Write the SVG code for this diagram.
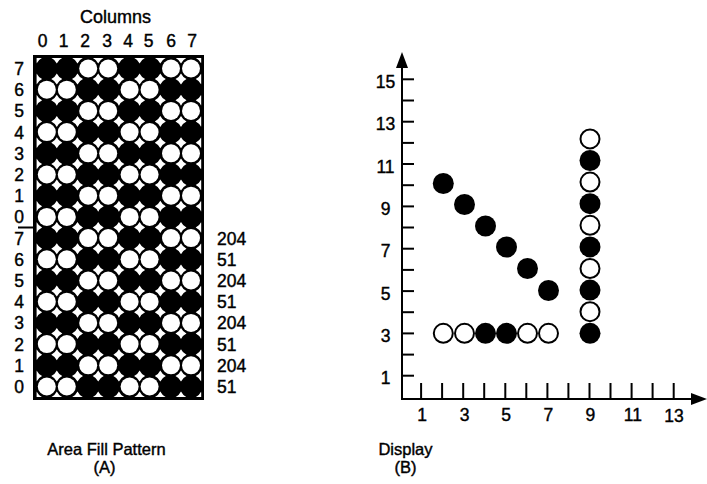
<svg xmlns="http://www.w3.org/2000/svg" xmlns:xlink="http://www.w3.org/1999/xlink" width="707" height="484" viewBox="0 0 707 484">
<style>
text{font-family:"Liberation Sans",Arial,Helvetica,sans-serif;fill:#000;stroke:#000;stroke-width:0.4px}
.n{font-size:17.5px}
.w{font-size:18px}
.t{font-size:16.5px;text-anchor:middle}
.c{text-anchor:middle}
.o{fill:#fff}
.line{stroke:#000;stroke-width:2;fill:none}
.tick{stroke:#000;stroke-width:2}
.bd{fill:#000}
.od{fill:#fff;stroke:#000;stroke-width:2}
</style>
<defs>
<path id="d" d="M0,-5.5 Q1.8,-1.8 5.5,0 Q1.8,1.8 0,5.5 Q-1.8,1.8 -5.5,0 Q-1.8,-1.8 0,-5.5Z" fill="#fff"/>
<clipPath id="inner"><rect x="36.6" y="57.9" width="164.6" height="339.2"/></clipPath>
<marker id="arr" viewBox="0 0 16 12" refX="0" refY="6" markerWidth="16" markerHeight="12" markerUnits="userSpaceOnUse" orient="auto"><path d="M0,0 L16,6 L0,12Z" fill="#000"/></marker>
</defs>
<rect width="707" height="484" fill="#fff"/>

<g id="panelA">
<text class="w c" x="115.5" y="23">Columns</text>
<g id="colLabels" class="n">
<text class="c" x="42.7" y="47">0</text><text class="c" x="63.5" y="47">1</text><text class="c" x="85" y="47">2</text><text class="c" x="107" y="47">3</text><text class="c" x="128" y="47">4</text><text class="c" x="148.5" y="47">5</text><text class="c" x="171" y="47">6</text><text class="c" x="192" y="47">7</text>
</g>
<g id="rowLabels" class="n">
<text class="c" x="19" y="75">7</text><text class="c" x="19" y="96.2">6</text><text class="c" x="19" y="117.4">5</text><text class="c" x="19" y="138.6">4</text><text class="c" x="19" y="159.8">3</text><text class="c" x="19" y="181">2</text><text class="c" x="19" y="202.2">1</text><text class="c" x="19" y="223.4">0</text>
<text class="c" x="19" y="244.6">7</text><text class="c" x="19" y="265.8">6</text><text class="c" x="19" y="287">5</text><text class="c" x="19" y="308.2">4</text><text class="c" x="19" y="329.4">3</text><text class="c" x="19" y="350.6">2</text><text class="c" x="19" y="371.8">1</text><text class="c" x="19" y="393">0</text>
</g>
<g id="byteValues" class="n">
<text x="217" y="244.6">204</text><text x="217" y="265.8">51</text><text x="217" y="287">204</text><text x="217" y="308.2">51</text><text x="217" y="329.4">204</text><text x="217" y="350.6">51</text><text x="217" y="371.8">204</text><text x="217" y="393">51</text>
</g>
<line class="line" x1="18" y1="227.5" x2="34" y2="227.5"/>
<g id="grid">
<rect x="33" y="55" width="171" height="345" fill="#000"/>
<g clip-path="url(#inner)">
<g id="diamonds">
<use href="#d" x="36.6" y="57.9"/><use href="#d" x="56.8" y="57.9"/><use href="#d" x="77.5" y="57.9"/><use href="#d" x="98.2" y="57.9"/><use href="#d" x="118.9" y="57.9"/><use href="#d" x="139.6" y="57.9"/><use href="#d" x="160.3" y="57.9"/><use href="#d" x="181" y="57.9"/><use href="#d" x="201.2" y="57.9"/>
<use href="#d" x="36.6" y="79.1"/><use href="#d" x="56.8" y="79.1"/><use href="#d" x="77.5" y="79.1"/><use href="#d" x="98.2" y="79.1"/><use href="#d" x="118.9" y="79.1"/><use href="#d" x="139.6" y="79.1"/><use href="#d" x="160.3" y="79.1"/><use href="#d" x="181" y="79.1"/><use href="#d" x="201.2" y="79.1"/>
<use href="#d" x="36.6" y="100.3"/><use href="#d" x="56.8" y="100.3"/><use href="#d" x="77.5" y="100.3"/><use href="#d" x="98.2" y="100.3"/><use href="#d" x="118.9" y="100.3"/><use href="#d" x="139.6" y="100.3"/><use href="#d" x="160.3" y="100.3"/><use href="#d" x="181" y="100.3"/><use href="#d" x="201.2" y="100.3"/>
<use href="#d" x="36.6" y="121.5"/><use href="#d" x="56.8" y="121.5"/><use href="#d" x="77.5" y="121.5"/><use href="#d" x="98.2" y="121.5"/><use href="#d" x="118.9" y="121.5"/><use href="#d" x="139.6" y="121.5"/><use href="#d" x="160.3" y="121.5"/><use href="#d" x="181" y="121.5"/><use href="#d" x="201.2" y="121.5"/>
<use href="#d" x="36.6" y="142.7"/><use href="#d" x="56.8" y="142.7"/><use href="#d" x="77.5" y="142.7"/><use href="#d" x="98.2" y="142.7"/><use href="#d" x="118.9" y="142.7"/><use href="#d" x="139.6" y="142.7"/><use href="#d" x="160.3" y="142.7"/><use href="#d" x="181" y="142.7"/><use href="#d" x="201.2" y="142.7"/>
<use href="#d" x="36.6" y="163.9"/><use href="#d" x="56.8" y="163.9"/><use href="#d" x="77.5" y="163.9"/><use href="#d" x="98.2" y="163.9"/><use href="#d" x="118.9" y="163.9"/><use href="#d" x="139.6" y="163.9"/><use href="#d" x="160.3" y="163.9"/><use href="#d" x="181" y="163.9"/><use href="#d" x="201.2" y="163.9"/>
<use href="#d" x="36.6" y="185.1"/><use href="#d" x="56.8" y="185.1"/><use href="#d" x="77.5" y="185.1"/><use href="#d" x="98.2" y="185.1"/><use href="#d" x="118.9" y="185.1"/><use href="#d" x="139.6" y="185.1"/><use href="#d" x="160.3" y="185.1"/><use href="#d" x="181" y="185.1"/><use href="#d" x="201.2" y="185.1"/>
<use href="#d" x="36.6" y="206.3"/><use href="#d" x="56.8" y="206.3"/><use href="#d" x="77.5" y="206.3"/><use href="#d" x="98.2" y="206.3"/><use href="#d" x="118.9" y="206.3"/><use href="#d" x="139.6" y="206.3"/><use href="#d" x="160.3" y="206.3"/><use href="#d" x="181" y="206.3"/><use href="#d" x="201.2" y="206.3"/>
<use href="#d" x="36.6" y="227.5"/><use href="#d" x="56.8" y="227.5"/><use href="#d" x="77.5" y="227.5"/><use href="#d" x="98.2" y="227.5"/><use href="#d" x="118.9" y="227.5"/><use href="#d" x="139.6" y="227.5"/><use href="#d" x="160.3" y="227.5"/><use href="#d" x="181" y="227.5"/><use href="#d" x="201.2" y="227.5"/>
<use href="#d" x="36.6" y="248.7"/><use href="#d" x="56.8" y="248.7"/><use href="#d" x="77.5" y="248.7"/><use href="#d" x="98.2" y="248.7"/><use href="#d" x="118.9" y="248.7"/><use href="#d" x="139.6" y="248.7"/><use href="#d" x="160.3" y="248.7"/><use href="#d" x="181" y="248.7"/><use href="#d" x="201.2" y="248.7"/>
<use href="#d" x="36.6" y="269.9"/><use href="#d" x="56.8" y="269.9"/><use href="#d" x="77.5" y="269.9"/><use href="#d" x="98.2" y="269.9"/><use href="#d" x="118.9" y="269.9"/><use href="#d" x="139.6" y="269.9"/><use href="#d" x="160.3" y="269.9"/><use href="#d" x="181" y="269.9"/><use href="#d" x="201.2" y="269.9"/>
<use href="#d" x="36.6" y="291.1"/><use href="#d" x="56.8" y="291.1"/><use href="#d" x="77.5" y="291.1"/><use href="#d" x="98.2" y="291.1"/><use href="#d" x="118.9" y="291.1"/><use href="#d" x="139.6" y="291.1"/><use href="#d" x="160.3" y="291.1"/><use href="#d" x="181" y="291.1"/><use href="#d" x="201.2" y="291.1"/>
<use href="#d" x="36.6" y="312.3"/><use href="#d" x="56.8" y="312.3"/><use href="#d" x="77.5" y="312.3"/><use href="#d" x="98.2" y="312.3"/><use href="#d" x="118.9" y="312.3"/><use href="#d" x="139.6" y="312.3"/><use href="#d" x="160.3" y="312.3"/><use href="#d" x="181" y="312.3"/><use href="#d" x="201.2" y="312.3"/>
<use href="#d" x="36.6" y="333.5"/><use href="#d" x="56.8" y="333.5"/><use href="#d" x="77.5" y="333.5"/><use href="#d" x="98.2" y="333.5"/><use href="#d" x="118.9" y="333.5"/><use href="#d" x="139.6" y="333.5"/><use href="#d" x="160.3" y="333.5"/><use href="#d" x="181" y="333.5"/><use href="#d" x="201.2" y="333.5"/>
<use href="#d" x="36.6" y="354.7"/><use href="#d" x="56.8" y="354.7"/><use href="#d" x="77.5" y="354.7"/><use href="#d" x="98.2" y="354.7"/><use href="#d" x="118.9" y="354.7"/><use href="#d" x="139.6" y="354.7"/><use href="#d" x="160.3" y="354.7"/><use href="#d" x="181" y="354.7"/><use href="#d" x="201.2" y="354.7"/>
<use href="#d" x="36.6" y="375.9"/><use href="#d" x="56.8" y="375.9"/><use href="#d" x="77.5" y="375.9"/><use href="#d" x="98.2" y="375.9"/><use href="#d" x="118.9" y="375.9"/><use href="#d" x="139.6" y="375.9"/><use href="#d" x="160.3" y="375.9"/><use href="#d" x="181" y="375.9"/><use href="#d" x="201.2" y="375.9"/>
<use href="#d" x="36.6" y="397.1"/><use href="#d" x="56.8" y="397.1"/><use href="#d" x="77.5" y="397.1"/><use href="#d" x="98.2" y="397.1"/><use href="#d" x="118.9" y="397.1"/><use href="#d" x="139.6" y="397.1"/><use href="#d" x="160.3" y="397.1"/><use href="#d" x="181" y="397.1"/><use href="#d" x="201.2" y="397.1"/>
</g>
</g>
<g id="openCells" class="o">
<circle cx="88.2" cy="68.5" r="9"/><circle cx="108.2" cy="68.5" r="9"/><circle cx="171" cy="68.5" r="9"/><circle cx="191" cy="68.5" r="9"/>
<circle cx="46.8" cy="89.7" r="9"/><circle cx="66.8" cy="89.7" r="9"/><circle cx="129.6" cy="89.7" r="9"/><circle cx="149.6" cy="89.7" r="9"/>
<circle cx="88.2" cy="110.9" r="9"/><circle cx="108.2" cy="110.9" r="9"/><circle cx="171" cy="110.9" r="9"/><circle cx="191" cy="110.9" r="9"/>
<circle cx="46.8" cy="132.1" r="9"/><circle cx="66.8" cy="132.1" r="9"/><circle cx="129.6" cy="132.1" r="9"/><circle cx="149.6" cy="132.1" r="9"/>
<circle cx="88.2" cy="153.3" r="9"/><circle cx="108.2" cy="153.3" r="9"/><circle cx="171" cy="153.3" r="9"/><circle cx="191" cy="153.3" r="9"/>
<circle cx="46.8" cy="174.5" r="9"/><circle cx="66.8" cy="174.5" r="9"/><circle cx="129.6" cy="174.5" r="9"/><circle cx="149.6" cy="174.5" r="9"/>
<circle cx="88.2" cy="195.7" r="9"/><circle cx="108.2" cy="195.7" r="9"/><circle cx="171" cy="195.7" r="9"/><circle cx="191" cy="195.7" r="9"/>
<circle cx="46.8" cy="216.9" r="9"/><circle cx="66.8" cy="216.9" r="9"/><circle cx="129.6" cy="216.9" r="9"/><circle cx="149.6" cy="216.9" r="9"/>
<circle cx="88.2" cy="238.1" r="9"/><circle cx="108.2" cy="238.1" r="9"/><circle cx="171" cy="238.1" r="9"/><circle cx="191" cy="238.1" r="9"/>
<circle cx="46.8" cy="259.3" r="9"/><circle cx="66.8" cy="259.3" r="9"/><circle cx="129.6" cy="259.3" r="9"/><circle cx="149.6" cy="259.3" r="9"/>
<circle cx="88.2" cy="280.5" r="9"/><circle cx="108.2" cy="280.5" r="9"/><circle cx="171" cy="280.5" r="9"/><circle cx="191" cy="280.5" r="9"/>
<circle cx="46.8" cy="301.7" r="9"/><circle cx="66.8" cy="301.7" r="9"/><circle cx="129.6" cy="301.7" r="9"/><circle cx="149.6" cy="301.7" r="9"/>
<circle cx="88.2" cy="322.9" r="9"/><circle cx="108.2" cy="322.9" r="9"/><circle cx="171" cy="322.9" r="9"/><circle cx="191" cy="322.9" r="9"/>
<circle cx="46.8" cy="344.1" r="9"/><circle cx="66.8" cy="344.1" r="9"/><circle cx="129.6" cy="344.1" r="9"/><circle cx="149.6" cy="344.1" r="9"/>
<circle cx="88.2" cy="365.3" r="9"/><circle cx="108.2" cy="365.3" r="9"/><circle cx="171" cy="365.3" r="9"/><circle cx="191" cy="365.3" r="9"/>
<circle cx="46.8" cy="386.5" r="9"/><circle cx="66.8" cy="386.5" r="9"/><circle cx="129.6" cy="386.5" r="9"/><circle cx="149.6" cy="386.5" r="9"/>
</g>
</g>
<text class="t" x="106.5" y="455">Area Fill Pattern</text>
<text class="t" x="104.5" y="473">(A)</text>
</g>

<g id="panelB">
<g id="connectors">
<line class="line" x1="402" y1="400" x2="402" y2="68" marker-end="url(#arr)"/>
<line class="line" x1="401" y1="399" x2="691" y2="399" marker-end="url(#arr)"/>
<g id="yTicks">
<line class="tick" x1="402" y1="375.7" x2="414" y2="375.7"/><line class="tick" x1="402" y1="354.6" x2="414" y2="354.6"/><line class="tick" x1="402" y1="333.4" x2="414" y2="333.4"/><line class="tick" x1="402" y1="312.2" x2="414" y2="312.2"/><line class="tick" x1="402" y1="291.1" x2="414" y2="291.1"/><line class="tick" x1="402" y1="269.9" x2="414" y2="269.9"/><line class="tick" x1="402" y1="248.7" x2="414" y2="248.7"/><line class="tick" x1="402" y1="227.5" x2="414" y2="227.5"/><line class="tick" x1="402" y1="206.4" x2="414" y2="206.4"/><line class="tick" x1="402" y1="185.2" x2="414" y2="185.2"/><line class="tick" x1="402" y1="164" x2="414" y2="164"/><line class="tick" x1="402" y1="142.9" x2="414" y2="142.9"/><line class="tick" x1="402" y1="121.7" x2="414" y2="121.7"/><line class="tick" x1="402" y1="100.5" x2="414" y2="100.5"/><line class="tick" x1="402" y1="79.3" x2="414" y2="79.3"/>
</g>
<g id="xTicks">
<line class="tick" x1="421.1" y1="399" x2="421.1" y2="383"/><line class="tick" x1="442.1" y1="399" x2="442.1" y2="383"/><line class="tick" x1="463.2" y1="399" x2="463.2" y2="383"/><line class="tick" x1="484.2" y1="399" x2="484.2" y2="383"/><line class="tick" x1="505.3" y1="399" x2="505.3" y2="383"/><line class="tick" x1="526.3" y1="399" x2="526.3" y2="383"/><line class="tick" x1="547.4" y1="399" x2="547.4" y2="383"/><line class="tick" x1="568.4" y1="399" x2="568.4" y2="383"/><line class="tick" x1="589.5" y1="399" x2="589.5" y2="383"/><line class="tick" x1="610.5" y1="399" x2="610.5" y2="383"/><line class="tick" x1="631.6" y1="399" x2="631.6" y2="383"/><line class="tick" x1="652.6" y1="399" x2="652.6" y2="383"/><line class="tick" x1="673.7" y1="399" x2="673.7" y2="383"/>
</g>
</g>
<g id="yLabels" class="n">
<text class="c" x="385.5" y="87.8">15</text><text class="c" x="385.5" y="130.2">13</text><text class="c" x="385.5" y="172.5">11</text><text class="c" x="385.5" y="214.9">9</text><text class="c" x="385.5" y="257.2">7</text><text class="c" x="385.5" y="299.6">5</text><text class="c" x="385.5" y="341.9">3</text><text class="c" x="385.5" y="384.2">1</text>
</g>
<g id="xLabels" class="n">
<text class="c" x="422" y="421">1</text><text class="c" x="464.5" y="421">3</text><text class="c" x="506" y="421">5</text><text class="c" x="548.4" y="421">7</text><text class="c" x="590.3" y="421">9</text><text class="c" x="632.8" y="421">11</text><text class="c" x="674" y="422">13</text>
</g>
<g id="diagonal">
<circle class="bd" cx="443.3" cy="183.5" r="10.5"/><circle class="bd" cx="464.5" cy="204.5" r="10.5"/><circle class="bd" cx="485.5" cy="226" r="10.5"/><circle class="bd" cx="506.5" cy="247" r="10.5"/><circle class="bd" cx="527.5" cy="268.5" r="10.5"/><circle class="bd" cx="548.5" cy="290.5" r="10.5"/>
</g>
<g id="horizontal">
<circle class="od" cx="443.3" cy="333.3" r="9.5"/><circle class="od" cx="464.5" cy="333.3" r="9.5"/><circle class="bd" cx="485.5" cy="333.3" r="10.5"/><circle class="bd" cx="506.5" cy="333.3" r="10.5"/><circle class="od" cx="527.5" cy="333.3" r="9.5"/><circle class="od" cx="548.5" cy="333.3" r="9.5"/>
</g>
<g id="vertical">
<circle class="bd" cx="590" cy="333.3" r="10.5"/><circle class="od" cx="590" cy="311.7" r="9.5"/><circle class="bd" cx="590" cy="290.1" r="10.5"/><circle class="od" cx="590" cy="268.5" r="9.5"/><circle class="bd" cx="590" cy="246.9" r="10.5"/><circle class="od" cx="590" cy="225.3" r="9.5"/><circle class="bd" cx="590" cy="203.7" r="10.5"/><circle class="od" cx="590" cy="182.1" r="9.5"/><circle class="bd" cx="590" cy="160.5" r="10.5"/><circle class="od" cx="590" cy="138.9" r="9.5"/>
</g>
<text class="t" x="405.5" y="455">Display</text>
<text class="t" x="405.5" y="473">(B)</text>
</g>
</svg>
